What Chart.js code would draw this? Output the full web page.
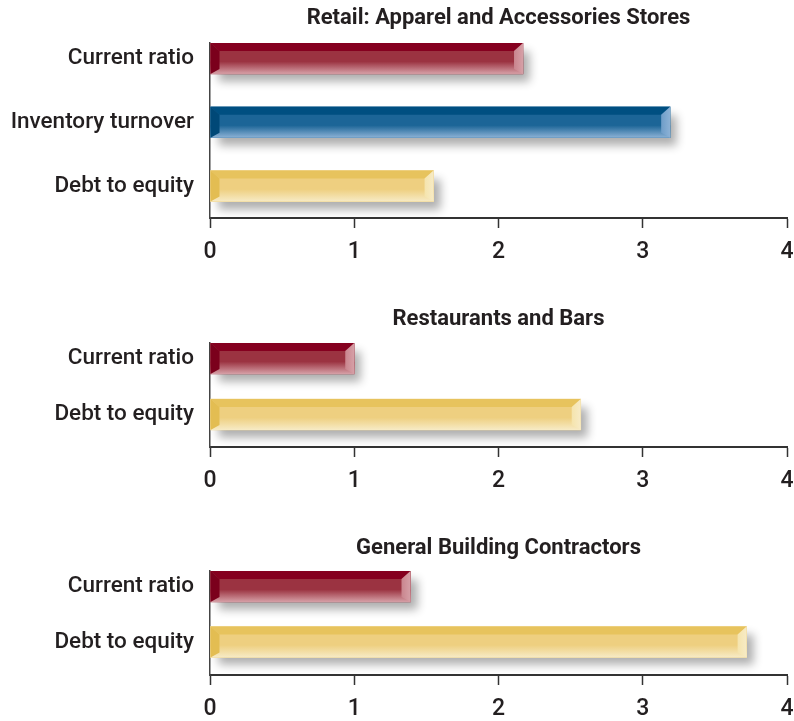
<!DOCTYPE html>
<html>
<head>
<meta charset="utf-8">
<script src="https://cdn.jsdelivr.net/npm/chart.js@4.4.1/dist/chart.umd.min.js"></script>
<style>
  html, body { margin: 0; padding: 0; background: #fff; overflow: hidden; }
  body { width: 794px; height: 721px; position: relative; }
  canvas { position: absolute; left: 0; }
</style>
</head>
<body>
<canvas id="retail" width="794" height="268" style="top:0px"></canvas>
<canvas id="restaurants" width="794" height="207" style="top:290px"></canvas>
<canvas id="contractors" width="794" height="205" style="top:520px"></canvas>
<script>
    // data
    const retailLabels = ['Current ratio', 'Inventory turnover', 'Debt to equity'];
    const retailValues = [2.17, 3.19, 1.55];

    const restaurantLabels = ['Current ratio', 'Debt to equity'];
    const restaurantValues = [1.0, 2.57];

    const contractorLabels = ['Current ratio', 'Debt to equity'];
    const contractorValues = [1.39, 3.72];

    const xTicks = [0, 1, 2, 3, 4];

    const barStyles = {
        'Current ratio':      { main: '#9b3341', top: '#85001f', left: '#7b001c', right: '#c9858e', light: '#d6a0a7' },
        'Inventory turnover': { main: '#1c6597', top: '#004f81', left: '#004877', right: '#6e9dc8', light: '#8db2d6' },
        'Debt to equity':     { main: '#eecf80', top: '#e7c35d', left: '#e3bd52', right: '#f5e4ad', light: '#f7ebc6' }
    };

    const textColor = '#231f20';

    // shadow under bars, then bevel details on top
    const bevelPlugin = {
        id: 'bevel',
        beforeDatasetsDraw(chart) {
            const ctx = chart.ctx;
            ctx.save();
            chart.getDatasetMeta(0).data.forEach(bar => {
                const t = bar.y - bar.height / 2;
                ctx.shadowColor = 'rgba(0, 0, 0, 0.32)';
                ctx.shadowBlur = 9;
                ctx.shadowOffsetX = 7;
                ctx.shadowOffsetY = 8;
                ctx.fillStyle = '#fff';
                ctx.fillRect(bar.base, t, bar.x - bar.base, bar.height);
            });
            ctx.restore();
        },
        afterDatasetsDraw(chart) {
            const ctx = chart.ctx;
            const labels = chart.options.plugins.bevel.labels;
            ctx.save();
            chart.getDatasetMeta(0).data.forEach((bar, i) => {
                const st = barStyles[labels[i]];
                const x0 = bar.base, x1 = bar.x;
                const t = bar.y - bar.height / 2, b = t + bar.height;
                const strip = 8, bev = 9;

                // lower part fades lighter
                const gy = t + bar.height * 0.6;
                const g = ctx.createLinearGradient(0, gy, 0, b);
                g.addColorStop(0, st.main);
                g.addColorStop(1, st.light);
                ctx.fillStyle = g;
                ctx.fillRect(x0, gy, x1 - x0, b - gy);

                // top strip
                ctx.fillStyle = st.top;
                ctx.beginPath();
                ctx.moveTo(x0, t); ctx.lineTo(x1, t);
                ctx.lineTo(x1 - bev, t + strip); ctx.lineTo(x0 + bev, t + strip);
                ctx.closePath(); ctx.fill();

                // left end
                ctx.fillStyle = st.left;
                ctx.beginPath();
                ctx.moveTo(x0, t); ctx.lineTo(x0 + bev, t + strip);
                ctx.lineTo(x0 + bev, b - 5); ctx.lineTo(x0, b);
                ctx.closePath(); ctx.fill();

                // right end
                const rg = ctx.createLinearGradient(x1 - bev, 0, x1, 0);
                rg.addColorStop(0, st.right);
                rg.addColorStop(1, st.light);
                ctx.fillStyle = rg;
                ctx.beginPath();
                ctx.moveTo(x1, t); ctx.lineTo(x1 - bev, t + strip);
                ctx.lineTo(x1 - bev, b - 5); ctx.lineTo(x1, b);
                ctx.closePath(); ctx.fill();
            });
            ctx.restore();
        }
    };

    // title centred over the plot area
    const panelTitle = {
        id: 'panelTitle',
        afterDraw(chart, args, opts) {
            const { ctx, chartArea } = chart;
            ctx.save();
            ctx.font = 'bold 22px Roboto';
            ctx.fillStyle = textColor;
            ctx.textAlign = 'center';
            ctx.textBaseline = 'middle';
            ctx.fillText(opts.text, (chartArea.left + chartArea.right) / 2, opts.y);
            ctx.restore();
        }
    };

    function makePanel(id, title, labels, values, lay) {
        return new Chart(document.getElementById(id), {
            type: 'bar',
            data: {
                datasets: [{
                    data: labels.map((l, i) => ({ x: values[i], y: i })),
                    backgroundColor: labels.map(l => barStyles[l].main),
                    borderWidth: 0,
                    barThickness: 31
                }]
            },
            options: {
                indexAxis: 'y',
                responsive: false,
                animation: false,
                layout: { padding: { top: lay.padTop, left: 0, right: 0, bottom: 0 } },
                plugins: {
                    legend: { display: false },
                    tooltip: { enabled: false },
                    bevel: { labels: labels },
                    panelTitle: { text: title, y: lay.titleY }
                },
                scales: {
                    x: {
                        type: 'linear',
                        min: 0,
                        max: 4,
                        afterBuildTicks: s => { s.ticks = xTicks.map(v => ({ value: v })); },
                        afterFit: s => { s.height = 50; s.paddingLeft = 0; s.paddingRight = 7; },
                        grid: { display: true, drawOnChartArea: false, drawTicks: true, tickLength: 10, tickWidth: 1.5, tickColor: '#333' },
                        border: { display: true, color: '#333', width: 2 },
                        ticks: { color: textColor, padding: 10, font: { family: 'Roboto', size: 23, weight: '500' } }
                    },
                    y: {
                        type: 'linear',
                        reverse: true,
                        offset: false,
                        min: lay.min,
                        max: lay.max,
                        afterBuildTicks: s => { s.ticks = labels.map((l, i) => ({ value: i })); },
                        afterFit: s => { s.width = 210; },
                        grid: { display: false },
                        border: { display: true, color: '#444', width: 1.5 },
                        ticks: {
                            callback: v => labels[v],
                            color: textColor,
                            padding: 8,
                            font: { family: 'Roboto', size: 22.5, weight: '500' }
                        }
                    }
                }
            },
            plugins: [bevelPlugin, panelTitle]
        });
    }

    makePanel('retail', 'Retail: Apparel and Accessories Stores', retailLabels, retailValues,
        { padTop: 43, titleY: 18, min: -0.242, max: 2.5 });
    makePanel('restaurants', 'Restaurants and Bars', restaurantLabels, restaurantValues,
        { padTop: 53, titleY: 29, min: -0.277, max: 1.58 });
    makePanel('contractors', 'General Building Contractors', contractorLabels, contractorValues,
        { padTop: 51, titleY: 28, min: -0.279, max: 1.595 });
</script>
</body>
</html>
